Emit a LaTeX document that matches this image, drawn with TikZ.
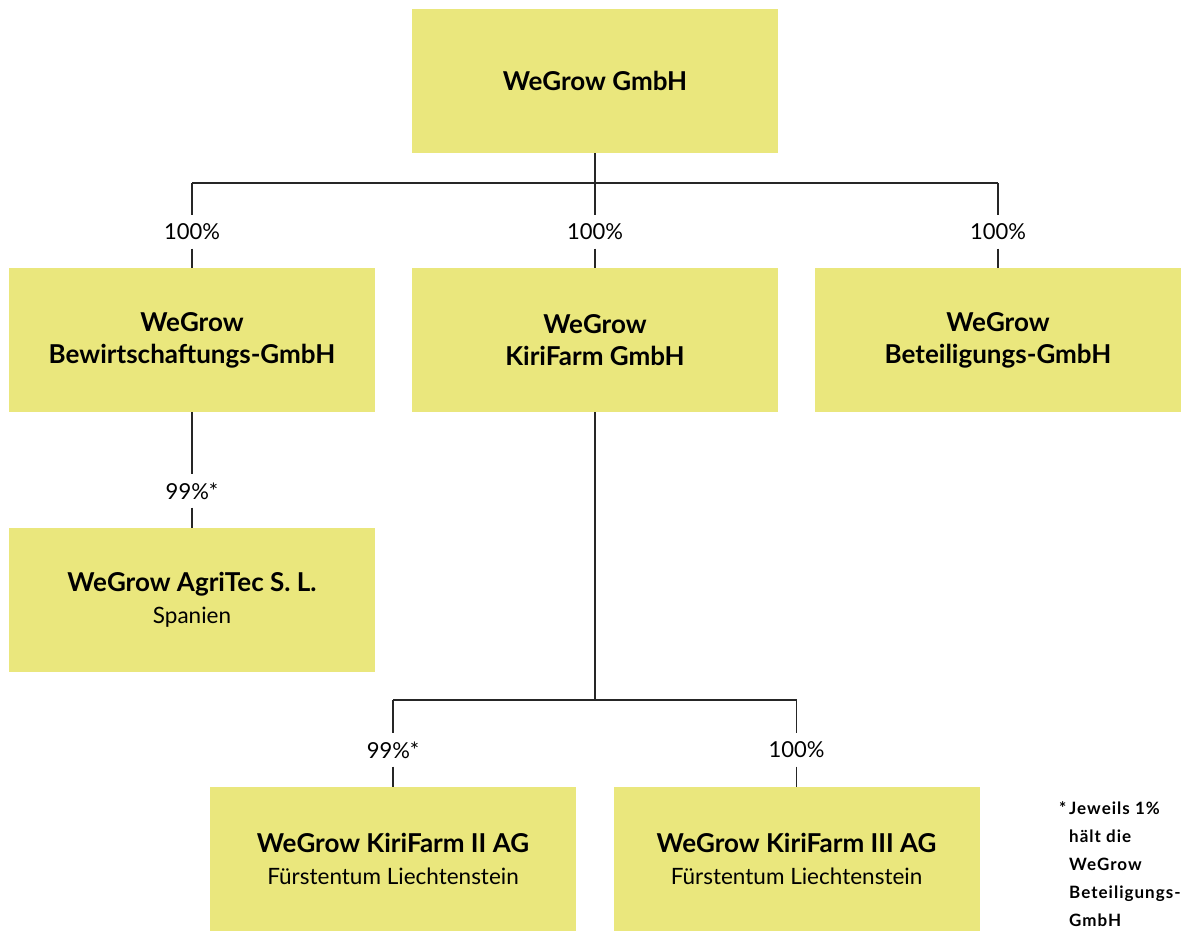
\documentclass[tikz,border=0pt]{standalone}
\usepackage{fontspec}
\setmainfont{Lato}
\usetikzlibrary{positioning}
\definecolor{wgyellow}{RGB}{234,231,125}
\tikzset{
  firm/.style={rectangle,fill=wgyellow,minimum width=366pt,minimum height=144pt,
    inner sep=0pt,align=center,font=\fontsize{26}{32}\selectfont\bfseries},
  share/.style={inner sep=0pt,minimum height=33pt,font=\fontsize{22}{26}\selectfont},
  link/.style={line width=1.2pt,black!85},
}
\newcommand{\seat}[1]{{\fontsize{22.5}{30}\selectfont\mdseries #1}}

\begin{document}
\begin{tikzpicture}[x=1pt,y=-1pt]
    \useasboundingbox (0,0) rectangle (1184,931);
    % Companies
    \node[firm] (wg) at (595,81) {WeGrow GmbH};
    \node[firm] (bew) at (192,340) {WeGrow\\Bewirtschaftungs-GmbH};
    \node[firm] (kiri) at (595,340) {WeGrow\\KiriFarm GmbH};
    \node[firm] (bet) at (998,340) {WeGrow\\Beteiligungs-GmbH};
    \node[firm] (agri) at (192,600) {WeGrow AgriTec S. L.\\\seat{Spanien}};
    \node[firm] (kf2) at (393,859) {WeGrow KiriFarm II AG\\\seat{Fürstentum Liechtenstein}};
    \node[firm] (kf3) at (796.5,859) {WeGrow KiriFarm III AG\\\seat{Fürstentum Liechtenstein}};
    % Shares
    \node[share] (s1) at (192,232) {100\%};
    \node[share] (s2) at (595,232) {100\%};
    \node[share] (s3) at (998,232) {100\%};
    \node[share] (s4) at (192,491) {99\%*};
    \node[share] (s5) at (393,750) {99\%*};
    \node[share] (s6) at (796.5,750) {100\%};
    % Top level
    \coordinate (jt) at (595,183);
    \coordinate (jtl) at (192,183);
    \coordinate (jtr) at (998,183);
    \draw[link] (wg.south) to (jt);
    \draw[link] (jtl) to (jtr);
    \draw[link] (jtl) to (s1);
    \draw[link] (jt) to (s2);
    \draw[link] (jtr) to (s3);
    \draw[link] (s1) to (bew.north);
    \draw[link] (s2) to (kiri.north);
    \draw[link] (s3) to (bet.north);
    % Spain
    \draw[link] (bew.south) to (s4);
    \draw[link] (s4) to (agri.north);
    % Liechtenstein
    \coordinate (jb) at (595,700);
    \coordinate (jbl) at (393,700);
    \coordinate (jbr) at (796.5,700);
    \draw[link] (kiri.south) to (jb);
    \draw[link] (jbl) to (jbr);
    \draw[link] (jbl) to (s5);
    \draw[link] (jbr) to (s6);
    \draw[link] (s5) to (kf2.north);
    \draw[link] (s6) to (kf3.north);
    % Footnote
    \node[anchor=north west,align=left,inner sep=0pt,
      font=\fontsize{17}{28}\selectfont\bfseries\addfontfeatures{LetterSpace=6}] (note) at (1059,801)
      {\makebox[10pt][l]{*}Jeweils 1\%\\\hspace*{10pt}hält die\\\hspace*{10pt}WeGrow\\\hspace*{10pt}Beteiligungs-\\\hspace*{10pt}GmbH};
\end{tikzpicture}
\end{document}
